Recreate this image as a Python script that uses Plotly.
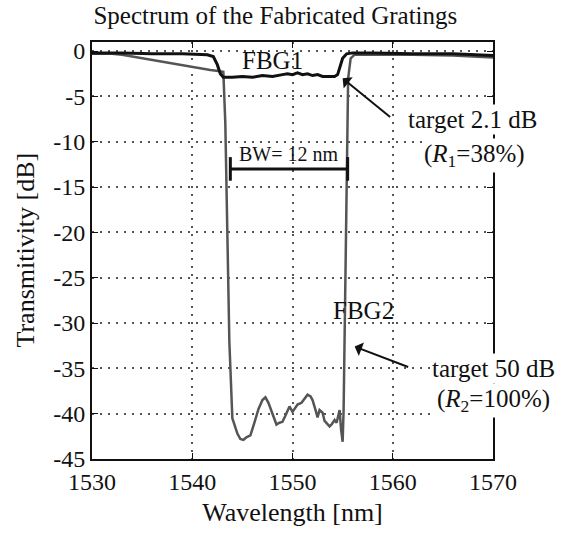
import plotly.graph_objects as go

# FBG2 (gray) transmission spectrum
fbg2_wl = [1530.0, 1532.0, 1533.0, 1535.0, 1537.0, 1539.0, 1540.5, 1541.8, 1542.6, 1543.1,
           1543.3, 1543.5, 1543.7, 1544.0, 1544.2, 1544.5, 1544.8, 1545.1, 1545.4, 1545.8,
           1546.2, 1546.6, 1547.0, 1547.3, 1547.6, 1548.0, 1548.4, 1548.7, 1549.0, 1549.3,
           1549.7, 1550.0, 1550.2, 1550.5, 1550.9, 1551.2, 1551.5, 1551.8, 1552.0, 1552.3,
           1552.5, 1552.7, 1553.0, 1553.2, 1553.4, 1553.7, 1553.9, 1554.2, 1554.4, 1554.6,
           1554.7, 1554.85, 1555.0, 1555.1, 1555.2, 1555.35, 1555.55, 1555.8, 1556.2, 1558.0,
           1562.0, 1566.0, 1570.0]
fbg2_db = [-0.3, -0.3, -0.4, -0.8, -1.2, -1.6, -1.9, -2.1, -2.2, -2.3,
           -8.0, -20.0, -32.0, -40.5, -41.3, -42.2, -42.8, -42.9, -42.6, -42.4,
           -41.0, -39.5, -38.5, -38.2, -38.8, -40.0, -41.2, -41.0, -40.9, -40.2,
           -39.2, -39.8, -39.5, -39.0, -38.8, -38.3, -37.9, -38.1, -38.5, -39.6,
           -40.4, -39.6, -39.9, -40.8, -41.0, -41.4, -41.2, -40.7, -41.0, -40.2,
           -39.6, -41.8, -43.1, -39.5, -30.0, -15.0, -3.0, -0.8, -0.4, -0.4,
           -0.4, -0.5, -0.7]

# FBG1 (black) transmission spectrum
fbg1_wl = [1530.0, 1533.0, 1536.0, 1539.0, 1541.5, 1542.1, 1542.5, 1542.8, 1543.1, 1544.0,
           1545.0, 1546.0, 1547.0, 1548.0, 1549.0, 1549.5, 1550.0, 1550.5, 1551.0, 1551.5,
           1552.0, 1552.5, 1553.0, 1553.5, 1554.2, 1554.5, 1554.75, 1555.0, 1555.4, 1556.0,
           1558.0, 1562.0, 1566.0, 1568.0, 1570.0]
fbg1_db = [-0.2, -0.2, -0.3, -0.3, -0.4, -0.6, -1.5, -2.5, -2.9, -2.9,
           -2.8, -2.9, -2.7, -2.8, -2.6, -2.5, -2.6, -2.4, -2.6, -2.5,
           -2.7, -2.6, -2.8, -2.8, -2.8, -2.6, -1.8, -0.8, -0.3, -0.2,
           -0.2, -0.3, -0.3, -0.4, -0.5]

# bandwidth marker
bw_wl = [1543.8, 1555.5]
bw_db = -13.0
bw_cap = 1.3

x_ticks = [1530, 1540, 1550, 1560, 1570]
y_ticks = [0, -5, -10, -15, -20, -25, -30, -35, -40, -45]

serif = "Liberation Serif, Times New Roman, serif"
fs = 24
afs = 25
tfs = 26

fig = go.Figure()
fig.add_trace(go.Scatter(x=fbg2_wl, y=fbg2_db, mode="lines",
                         line=dict(color="#555555", width=2.5), showlegend=False))
fig.add_trace(go.Scatter(x=fbg1_wl, y=fbg1_db, mode="lines",
                         line=dict(color="#111111", width=3), showlegend=False))
# BW bar with caps
bx = [bw_wl[0], bw_wl[1], None, bw_wl[0], bw_wl[0], None, bw_wl[1], bw_wl[1]]
by = [bw_db, bw_db, None, bw_db + bw_cap, bw_db - bw_cap, None, bw_db + bw_cap, bw_db - bw_cap]
fig.add_trace(go.Scatter(x=bx, y=by, mode="lines",
                         line=dict(color="#111111", width=3), showlegend=False))

ann_font = dict(family=serif, size=afs, color="#111111")
annotations = [
    dict(x=1548.0, y=-1.0, xref="x", yref="y", text="FBG1", showarrow=False, font=ann_font,
         xanchor="center", yanchor="middle"),
    dict(x=1549.6, y=-11.3, xref="x", yref="y", text="BW= 12 nm", showarrow=False,
         xanchor="center", yanchor="middle",
         font=dict(family=serif, size=20, color="#111111")),
    dict(x=1557.1, y=-28.6, xref="x", yref="y", text="FBG2", showarrow=False, font=ann_font,
         xanchor="center", yanchor="middle"),
    dict(x=0.948, y=0.815, xref="paper", yref="paper", text="target 2.1 dB", showarrow=False,
         font=ann_font, bgcolor="white", xanchor="center", yanchor="middle"),
    dict(x=0.955, y=0.729, xref="paper", yref="paper", text="(<i>R</i><sub>1</sub>=38%)",
         showarrow=False, font=ann_font, bgcolor="white", xanchor="center", yanchor="middle"),
    dict(x=1.0, y=0.218, xref="paper", yref="paper", text="target 50 dB", showarrow=False,
         font=ann_font, bgcolor="white", xanchor="center", yanchor="middle"),
    dict(x=1.0, y=0.141, xref="paper", yref="paper", text="(<i>R</i><sub>2</sub>=100%)",
         showarrow=False, font=ann_font, bgcolor="white", xanchor="center", yanchor="middle"),
    dict(x=1555.0, y=-3.0, xref="x", yref="y", ax=49, ay=40, text="", showarrow=True,
         arrowhead=1, arrowsize=1.2, arrowwidth=2, arrowcolor="#111111"),
    dict(x=1556.2, y=-32.6, xref="x", yref="y", ax=55, ay=21, text="", showarrow=True,
         arrowhead=1, arrowsize=1.2, arrowwidth=2, arrowcolor="#111111"),
    # y-axis title placed precisely
    dict(x=-0.167, y=0.5, xref="paper", yref="paper", text="Transmitivity [dB]",
         textangle=-90, showarrow=False, xanchor="center", yanchor="middle",
         font=dict(family=serif, size=tfs, color="#111111")),
]

fig.update_layout(
    width=562, height=534,
    margin=dict(l=92, r=69, t=42, b=75),
    paper_bgcolor="white", plot_bgcolor="white",
    title=dict(text="Spectrum of the Fabricated Gratings", x=0.49, xanchor="center",
               y=0.972, yanchor="middle", font=dict(family=serif, size=25, color="#111111")),
    annotations=annotations,
    font=dict(family=serif, size=fs, color="#111111"),
)
fig.update_xaxes(range=[1530, 1570], tickvals=x_ticks, ticktext=[str(v) for v in x_ticks],
                 showline=True, linecolor="#111111", linewidth=2, mirror="ticks",
                 ticks="inside", ticklen=6, tickcolor="#111111",
                 showgrid=True, gridcolor="#555555", gridwidth=1.5, griddash="2px,6px",
                 zeroline=False, title=dict(text="Wavelength [nm]", standoff=9,
                                            font=dict(family=serif, size=tfs)),
                 tickfont=dict(family=serif, size=fs))
fig.update_yaxes(range=[-45, 1], tickvals=y_ticks, ticktext=[str(v) for v in y_ticks],
                 showline=True, linecolor="#111111", linewidth=2, mirror="ticks",
                 ticks="inside", ticklen=6, tickcolor="#111111",
                 showgrid=True, gridcolor="#555555", gridwidth=1.5, griddash="2px,6px",
                 zeroline=False, tickfont=dict(family=serif, size=fs))

fig.write_html("out.html")
